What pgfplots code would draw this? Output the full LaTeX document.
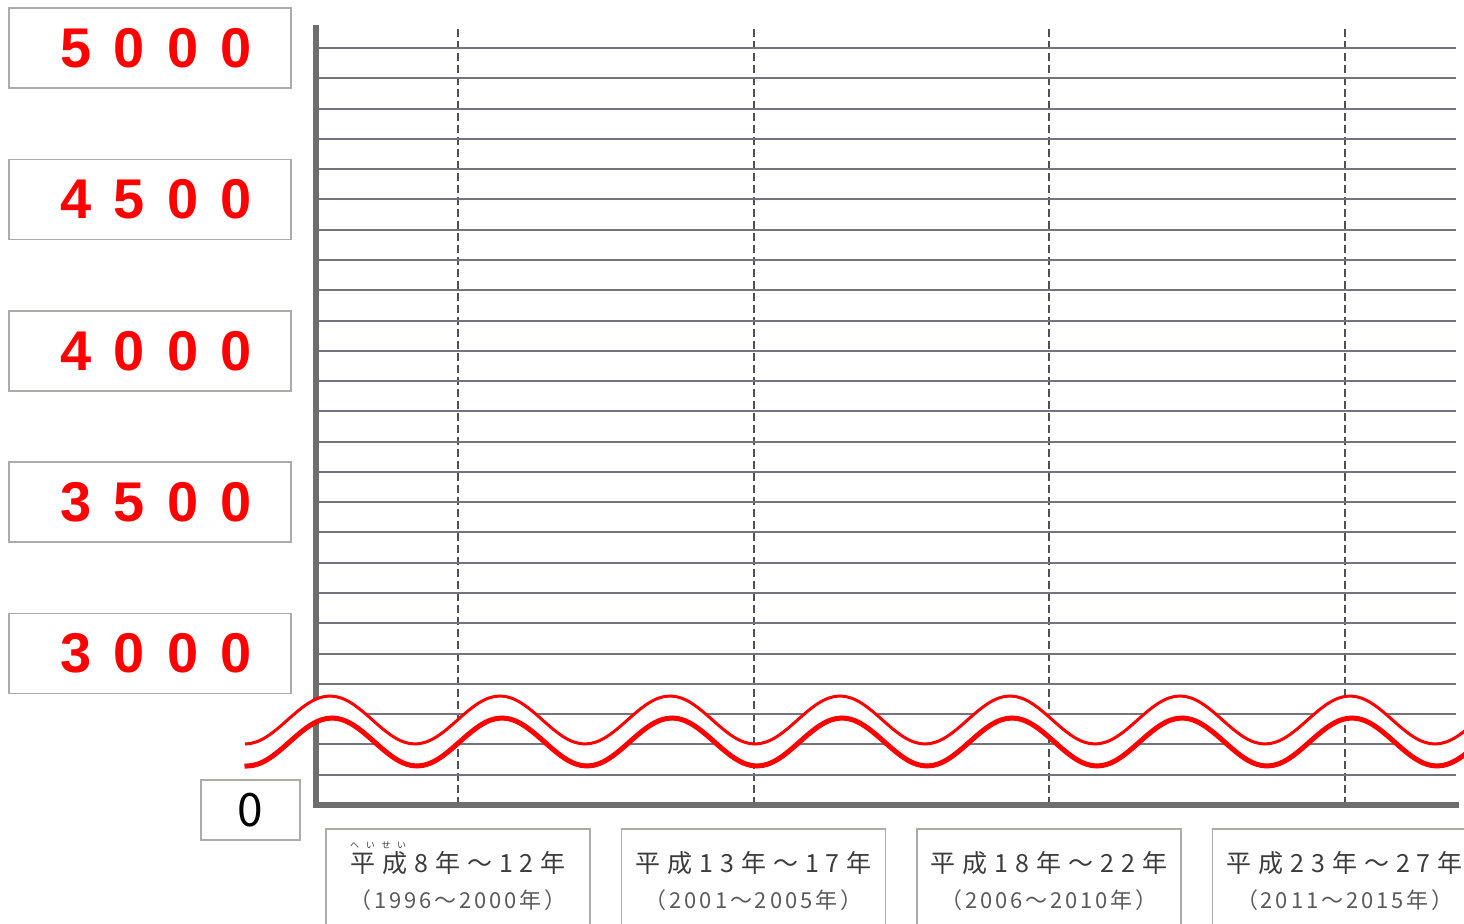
\documentclass[border=0pt]{standalone}
\usepackage{fontspec}
\usepackage{pgfplots}
\pgfplotsset{compat=1.18}
\setmainfont{Liberation Sans}
\newfontfamily\jpfont{Noto Sans CJK JP}
\newfontfamily\jpA[LetterSpace=28]{Noto Sans CJK JP}
\newfontfamily\jpB[LetterSpace=13]{Noto Sans CJK JP}
\newfontfamily\numfont{Liberation Sans}
\definecolor{axisgray}{HTML}{6E6E6E}
\definecolor{gridgray}{HTML}{77737D}
\definecolor{dashgray}{HTML}{505050}
\definecolor{boxgray}{HTML}{A8ADA8}
\definecolor{jptext}{HTML}{3C3C3C}
\definecolor{jptextB}{HTML}{5A5A5A}
\definecolor{wavered}{HTML}{FF0000}
\newcommand\rn[4]{\hspace{6pt}#1\hspace{11.2pt}#2\hspace{11.2pt}#3\hspace{11.2pt}#4}
\newcommand\lA[1]{{\jpA\fontsize{12.5}{15}\selectfont\color{jptext}#1}}
\newcommand\lB[1]{{\jpB\fontsize{11}{13}\selectfont\color{jptextB}#1}}
\newcommand\ruby{\makebox[0pt][l]{\raisebox{12pt}[0pt][0pt]{\jpfont\fontsize{4.5}{5}\selectfont\makebox[28pt][s]{へ\hfill い\hfill せ\hfill い}}}}
\begin{document}
\begin{tikzpicture}
\path[use as bounding box] (0,0) rectangle (732pt,461.5pt);
\begin{axis}[
  at={(158pt,59pt)}, anchor=south west,
  scale only axis, width=570pt, height=388.5pt,
  xmin=-0.4805, xmax=3.377, ymin=2500, ymax=5066,
  axis x line*=bottom, axis y line*=left,
  axis line style={line width=3pt, color=axisgray, -, line cap=rect},
  major tick length=0pt, minor tick length=0pt,
  xtick={0,1,2,3},
  xticklabels={
    {\lA{\ruby 平成8年～12年}\\[6pt]\lB{（1996～2000年）}},
    {\lA{平成13年～17年}\\[6pt]\lB{（2001～2005年）}},
    {\lA{平成18年～22年}\\[6pt]\lB{（2006～2010年）}},
    {\lA{平成23年～27年}\\[6pt]\lB{（2011～2015年）}}},
  xticklabel style={draw=boxgray, line width=0.75pt, minimum width=132pt,
    minimum height=52pt, anchor=north, yshift=-11.5pt, align=center,
    inner sep=0pt, font=\fontsize{10}{12}\selectfont},
  ytick={3000,3500,4000,4500,5000},
  yticklabels={{\rn3000},{\rn3500},{\rn4000},{\rn4500},{\rn5000}},
  yticklabel style={draw=boxgray, line width=0.75pt, minimum width=141pt,
    minimum height=40pt, anchor=east, xshift=-12pt, inner sep=0pt,
    text=wavered, font=\numfont\bfseries\fontsize{28}{30}\selectfont},
  minor ytick={2600,2700,...,5000},
  extra y ticks={2500}, extra y tick labels={0},
  extra y tick style={grid=none, yticklabel style={minimum width=49.5pt,
    minimum height=30pt, xshift=4.5pt, yshift=-2.5pt, text=black,
    font=\jpfont\fontsize{23}{25}\selectfont}},
  xmajorgrids, ymajorgrids, yminorgrids,
  x grid style={dashgray, line width=1pt, dash pattern=on 4pt off 2pt},
  y grid style={gridgray, line width=1pt},
  clip=false,
]
\end{axis}
\begin{scope}[x=0.5pt, y=-0.5pt, shift={(0pt,461.5pt)}]
  \fill[white] (245,744)
    \foreach \i in {1,...,9}{ cos ++(42.5,-24) sin ++(42.5,-24) cos ++(42.5,24) sin ++(42.5,24) }
    -- ++(0,22)
    \foreach \i in {1,...,9}{ cos ++(-42.5,-24) sin ++(-42.5,-24) cos ++(-42.5,24) sin ++(-42.5,24) }
    -- cycle;
  \draw[wavered, line width=1.5pt] (245,744)
    \foreach \i in {1,...,9}{ cos ++(42.5,-24) sin ++(42.5,-24) cos ++(42.5,24) sin ++(42.5,24) };
  \draw[wavered, line width=2.5pt, line cap=rect] (247,766)
    \foreach \i in {1,...,9}{ cos ++(42.5,-24) sin ++(42.5,-24) cos ++(42.5,24) sin ++(42.5,24) };
\end{scope}
\end{tikzpicture}
\end{document}
